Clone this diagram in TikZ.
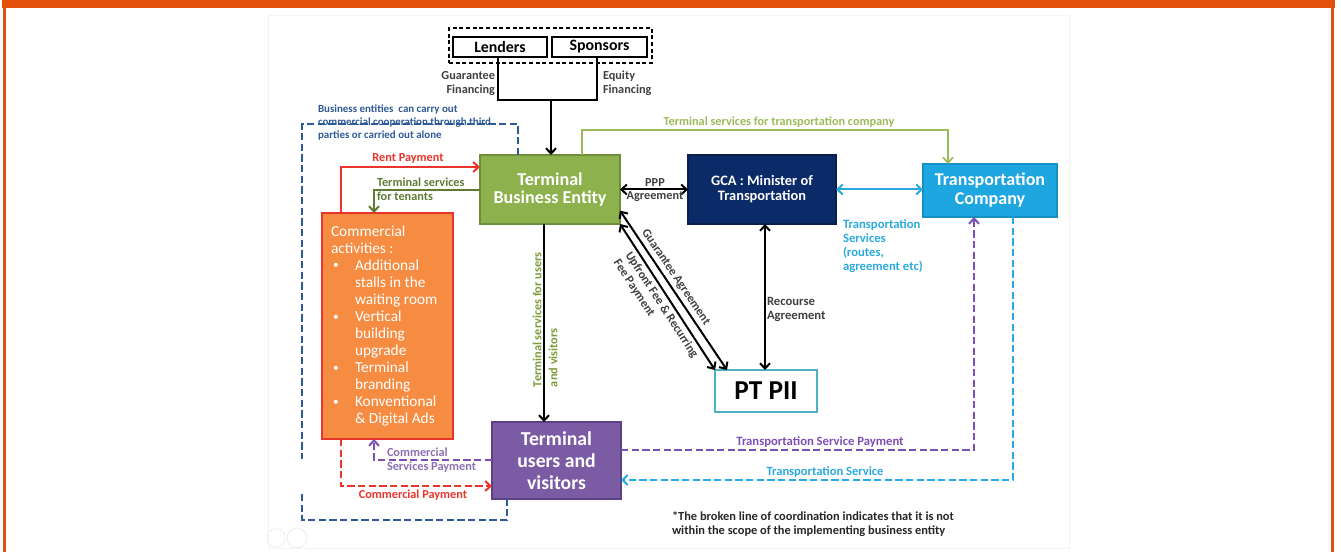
\documentclass[tikz,border=0pt]{standalone}
\usepackage{fontspec}
\usepackage{graphicx}
\setmainfont{Carlito}
\usetikzlibrary{arrows.meta,calc}

\definecolor{frameor}{HTML}{E3500B}
\definecolor{tbegreen}{HTML}{8DB14D}
\definecolor{tbeedge}{HTML}{6F8E3C}
\definecolor{gcanavy}{HTML}{0B2A68}
\definecolor{gcaedge}{HTML}{0A1F4C}
\definecolor{tcblue}{HTML}{1EA6E0}
\definecolor{tcedge}{HTML}{1790C5}
\definecolor{comorange}{HTML}{F68C42}
\definecolor{comred}{HTML}{E8342A}
\definecolor{tuvpurple}{HTML}{7C5BA5}
\definecolor{tuvedge}{HTML}{5D4187}
\definecolor{piiteal}{HTML}{4FB0C4}
\definecolor{scopeblue}{HTML}{2E5A97}
\definecolor{svcgreen}{HTML}{9BBB59}
\definecolor{tenantgreen}{HTML}{5E7A33}
\definecolor{paypurple}{HTML}{7D4FB5}
\definecolor{paylabel}{HTML}{8B6FB0}
\definecolor{skyblue}{HTML}{2AA9E0}
\definecolor{usergreen}{HTML}{7D9B3B}
\definecolor{labelgrey}{HTML}{404040}

\newcommand{\fsz}[2]{\fontsize{#1}{#2}\selectfont}
\newcommand{\bul}{\makebox[18pt][l]{\hspace{1.5pt}\raisebox{0.2ex}{\scalebox{0.75}{\textbullet}}}}
\newcommand{\hang}{\hspace*{18pt}}

\begin{document}
\begin{tikzpicture}[x=0.75pt,y=-0.75pt,
  every node/.style={inner sep=0pt,outer sep=0pt},
  >={Straight Barb[length=4pt,width=7.5pt]},
  box/.style={draw,line width=1pt,align=center,text=white},
  conn/.style={line width=1.5pt},
  dsh/.style={line width=1.5pt,dash pattern=on 5.5pt off 2.5pt},
  lbl/.style={font=\bfseries\fsz{9.2}{10.5}},
]
\useasboundingbox (0,0) rectangle (1341,552);

% page frame
\fill[frameor] (2,0) rectangle (1335,8);
\fill[frameor] (3,8) rectangle (6,552);
\fill[frameor] (1331,8) rectangle (1334,552);
% slide outline and controls
\draw[gray!8,line width=0.6pt] (268,15) rectangle (1069,548);
\draw[gray!15,line width=0.6pt] (276,538) circle[radius=7pt];
\draw[gray!15,line width=0.6pt] (297,538) circle[radius=7.5pt];

% blocks
\node[draw,dash pattern=on 3pt off 2pt,line width=0.9pt,minimum width=152.25pt,minimum height=26.25pt] (investors) at (550.5,45.5) {};
\node[draw,fill=white,line width=0.9pt,minimum width=70.5pt,minimum height=15pt,font=\bfseries\fsz{11.9}{12}] (lenders) at (500,47) {Lenders};
\node[draw,fill=white,line width=0.9pt,minimum width=71.25pt,minimum height=15pt,font=\bfseries\fsz{11.9}{12}] (sponsors) at (599.5,47) {Sponsors};

\node[box,fill=tbegreen,draw=tbeedge,minimum width=105pt,minimum height=51.75pt,font=\bfseries\fsz{13.6}{13.8}] (tbe) at (550,189.5) {Terminal\\Business Entity};
\node[box,fill=gcanavy,draw=gcaedge,minimum width=111pt,minimum height=51.75pt,font=\bfseries\fsz{10.8}{11.3}] (gca) at (762,189.5) {GCA : Minister of\\Transportation};
\node[box,fill=tcblue,draw=tcedge,minimum width=100.5pt,minimum height=39.75pt,font=\bfseries\fsz{13.5}{14.3}] (tc) at (990,190.5) {Transportation\\Company};
\node[box,fill=comorange,draw=comred,line width=1.5pt,minimum width=98.25pt,minimum height=169.5pt] (com) at (387.5,326) {};
\node[anchor=west,text=white,align=left,font=\fsz{11.5}{12.8}] (comtext) at (331,326) {Commercial\\activities :\\
\bul Additional\\\hang stalls in the\\\hang waiting room\\
\bul Vertical\\\hang building\\\hang upgrade\\
\bul Terminal\\\hang branding\\
\bul Konventional\\\hang \& Digital Ads};
\node[box,fill=tuvpurple,draw=tuvedge,minimum width=96.75pt,minimum height=57.75pt,font=\bfseries\fsz{14.8}{16.3}] (tuv) at (556.5,460.5) {Terminal\\users and\\visitors};
\node[draw=piiteal,line width=1.2pt,fill=white,minimum width=76.5pt,minimum height=31.5pt,font=\bfseries\fsz{20.5}{22}] (pii) at (766,391) {PT PII};

% bends of the connectors
\coordinate (lf) at (498,100);
\coordinate (sf) at (597,100);
\coordinate (fin) at (551,100);
\coordinate (g1) at (582,130);
\coordinate (g2) at (948,130);
\coordinate (r1) at (341,167);
\coordinate (t1) at (374,190);
\coordinate (u1) at (544,300);
\coordinate (rc) at (765,300);
\coordinate (c1) at (374,460);
\coordinate (c2) at (341,486);
\coordinate (s1) at (974,450);
\coordinate (s2) at (1013,480);
\coordinate (b1) at (302,124);
\coordinate (b2) at (518,124);
\coordinate (b3) at (302,459);
\coordinate (b4) at (302,494);
\coordinate (b5) at (302,520);
\coordinate (b6) at (507,520);

% financing
\draw[conn] (lf |- lenders.south) -- (lf) -- (sf) -- (sf |- sponsors.south);
\draw[conn,->] (fin) -- (fin |- tbe.north);

% solid flows
\draw[conn,svcgreen,line width=1.3pt,->] (g1 |- tbe.north) -- (g1) -- (g2) -- (g2 |- tc.north);
\draw[conn,comred,->] (r1 |- com.north) -- (r1) -- (r1 -| tbe.west);
\draw[conn,tenantgreen,->] (t1 -| tbe.west) -- (t1) -- (t1 |- com.north);
\draw[conn,<->] (tbe.east) -- (gca.west);
\draw[conn,skyblue,<->] (gca.east) -- (gca.east -| tc.west);
\draw[conn,->] (u1 |- tbe.south) -- (u1 |- tuv.north);
\draw[conn,<->] ([yshift=10pt]tbe.south east) -- node[pos=0.45,sloped,above=3pt,lbl,text=labelgrey] (guar) {Guarantee Agreement} ([xshift=9pt]pii.north west);
\draw[conn,<->] (tbe.south east) -- node[pos=0.52,sloped,below=3pt,lbl,text=labelgrey,align=left] (upfr) {Upfront Fee \& Recurring\\Fee Payment} (pii.north west);
\draw[conn,<->] (rc |- gca.south) -- (rc |- pii.north);

% broken flows
\draw[dsh,paypurple,->] (c1 -| tuv.west) -- (c1) -- (c1 |- com.south);
\draw[dsh,comred,->] (c2 |- com.south) -- (c2) -- (c2 -| tuv.west);
\draw[dsh,paypurple,->] (s1 -| tuv.east) -- (s1) -- (s1 |- tc.south);
\draw[dsh,skyblue,->] (s2 |- tc.south) -- (s2) -- (s2 -| tuv.east);
\draw[dsh,scopeblue] (b2 |- tbe.north) -- (b2) -- (b1) -- (b3);
\draw[dsh,scopeblue] (b4) -- (b5) -- (b6) -- (b6 |- tuv.south);

% labels
\node[lbl,text=labelgrey,align=right,anchor=east] (gfin) at (495,83.5) {Guarantee\\Financing};
\node[lbl,text=labelgrey,align=left,anchor=west] (efin) at (603,83.5) {Equity\\Financing};
\node[text=scopeblue,font=\bfseries\fsz{8.2}{9.75},align=left,anchor=west] (scope) at (318,123) {Business entities\ \ can carry out\\commercial cooperation through third\\parties or carried out alone};
\node[lbl,text=svcgreen] (tsc) at (779,122) {Terminal services for transportation company};
\node[lbl,text=comred] (rent) at (408,158) {Rent Payment};
\node[lbl,text=tenantgreen,align=left,anchor=west] (ten) at (377,189.5) {Terminal services\\for tenants};
\node[lbl,text=labelgrey] (ppp1) at (655,183) {PPP};
\node[lbl,text=labelgrey] (ppp2) at (655,197) {Agreement};
\node[lbl,text=skyblue,align=left,anchor=west,font=\bfseries\fsz{9.5}{10.5}] (tsvc) at (843,246) {Transportation\\Services\\(routes,\\agreement etc)};
\node[lbl,text=usergreen,rotate=90,anchor=west,align=left,font=\bfseries\fsz{9.2}{12}] (ulbl) at (545,387) {Terminal services for users\\and visitors};
\node[lbl,text=labelgrey,align=left,anchor=west,font=\bfseries\fsz{9.5}{10.5}] (rec) at (767,309) {Recourse\\Agreement};
\node[lbl,text=paylabel,align=left,anchor=west] (csp) at (387,460) {Commercial\\Services Payment};
\node[lbl,text=comred] (cpay) at (413,495) {Commercial Payment};
\node[lbl,text=paypurple,font=\bfseries\fsz{9.5}{10.5}] (tsp) at (820,442) {Transportation Service Payment};
\node[lbl,text=skyblue,font=\bfseries\fsz{9.4}{10.5}] (tsv) at (825,472) {Transportation Service};
\node[text=black!85,align=left,anchor=west,font=\bfseries\fsz{9.3}{10.5}] (note) at (672,524) {*The broken line of coordination indicates that it is not\\within the scope of the implementing business entity};
\end{tikzpicture}
\end{document}
